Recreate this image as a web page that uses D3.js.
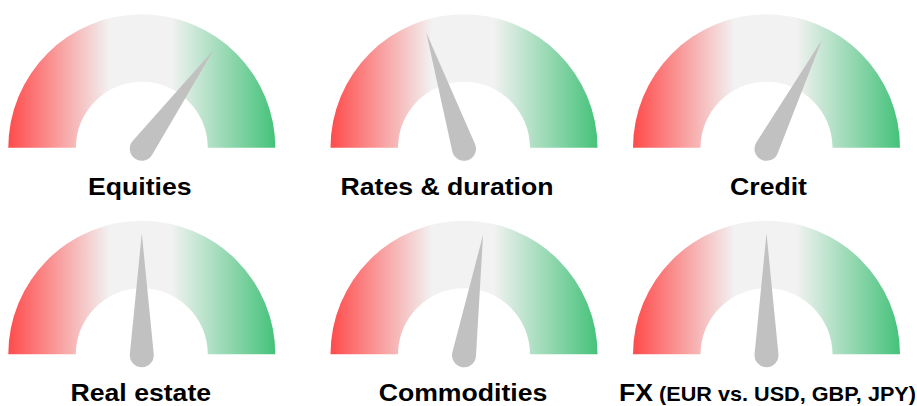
<!DOCTYPE html>
<html>
<head>
<meta charset="utf-8">
<script src="https://cdn.jsdelivr.net/npm/d3@7"></script>
<style>
  html, body { margin: 0; padding: 0; background: #fff; }
  svg { display: block; }
  .label { font-family: "Liberation Sans", Arial, Helvetica, sans-serif; font-weight: bold; fill: #000; }
</style>
</head>
<body>
<svg id="chart" width="917" height="406"></svg>
<script>
// Gauge titles and readings (0 = fully negative, 1 = fully positive)
const gaugeNames = ["Equities", "Rates & duration", "Credit", "Real estate", "Commodities", "FX"];
const gaugeNotes = ["", "", "", "", "", "(EUR vs. USD, GBP, JPY)"];
const gaugeValues = [0.70, 0.40, 0.65, 0.50, 0.55, 0.50];

const width = 917, height = 406;
const colCenters = [141.8, 464, 766.5];
const rowBaselines = [147.8, 354.3];
const labelShift = [-2, -17, 2, -1, -1, 1];
const innerR = 66, outerR = 133.5;
const needleLen = 122, needleR = 12;

const svg = d3.select("#chart");

// Red → grey → green sweep across each dial
const defs = svg.append("defs");
const grad = defs.append("linearGradient")
  .attr("id", "dialFill")
  .attr("x1", "0%").attr("x2", "100%").attr("y1", "0%").attr("y2", "0%");
[[0, "#ff4b4b"], [0.38, "#f2f2f2"], [0.61, "#f2f2f2"], [1, "#45c27a"]]
  .forEach(([o, c]) => grad.append("stop").attr("offset", o).attr("stop-color", c));

const angle = d3.scaleLinear().domain([0, 1]).range([-90, 90]);

const dialArc = d3.arc()
  .innerRadius(innerR)
  .outerRadius(outerR)
  .startAngle(-Math.PI / 2)
  .endAngle(Math.PI / 2);

// Tapered needle with a rounded hub, pointing straight up from the pivot
function needlePath(L, r) {
  const ty = -r * r / L;
  const tx = r * Math.sqrt(1 - (r / L) * (r / L));
  return `M0,${-L} L${tx},${ty} A${r},${r} 0 1 1 ${-tx},${ty} Z`;
}

const gauges = svg.selectAll("g.gauge")
  .data(gaugeNames.map((name, i) => ({ name, note: gaugeNotes[i], value: gaugeValues[i], i })))
  .join("g")
  .attr("class", "gauge")
  .attr("transform", d => `translate(${colCenters[d.i % 3]},${rowBaselines[Math.floor(d.i / 3)]})`);

gauges.append("path")
  .attr("d", dialArc)
  .attr("fill", "url(#dialFill)");

gauges.append("path")
  .attr("d", needlePath(needleLen, needleR))
  .attr("fill", "#c1c1c1")
  .attr("transform", d => `translate(0,1) rotate(${angle(d.value)})`);

const label = gauges.append("text")
  .attr("class", "label")
  .attr("text-anchor", "middle")
  .attr("transform", d => `translate(${labelShift[d.i]},46.7) scale(1.11,1)`)
  .style("font-size", "24px");

label.append("tspan").text(d => d.name);
label.filter(d => d.note)
  .append("tspan")
  .style("font-size", "19.5px")
  .text(d => " " + d.note);
</script>
</body>
</html>
